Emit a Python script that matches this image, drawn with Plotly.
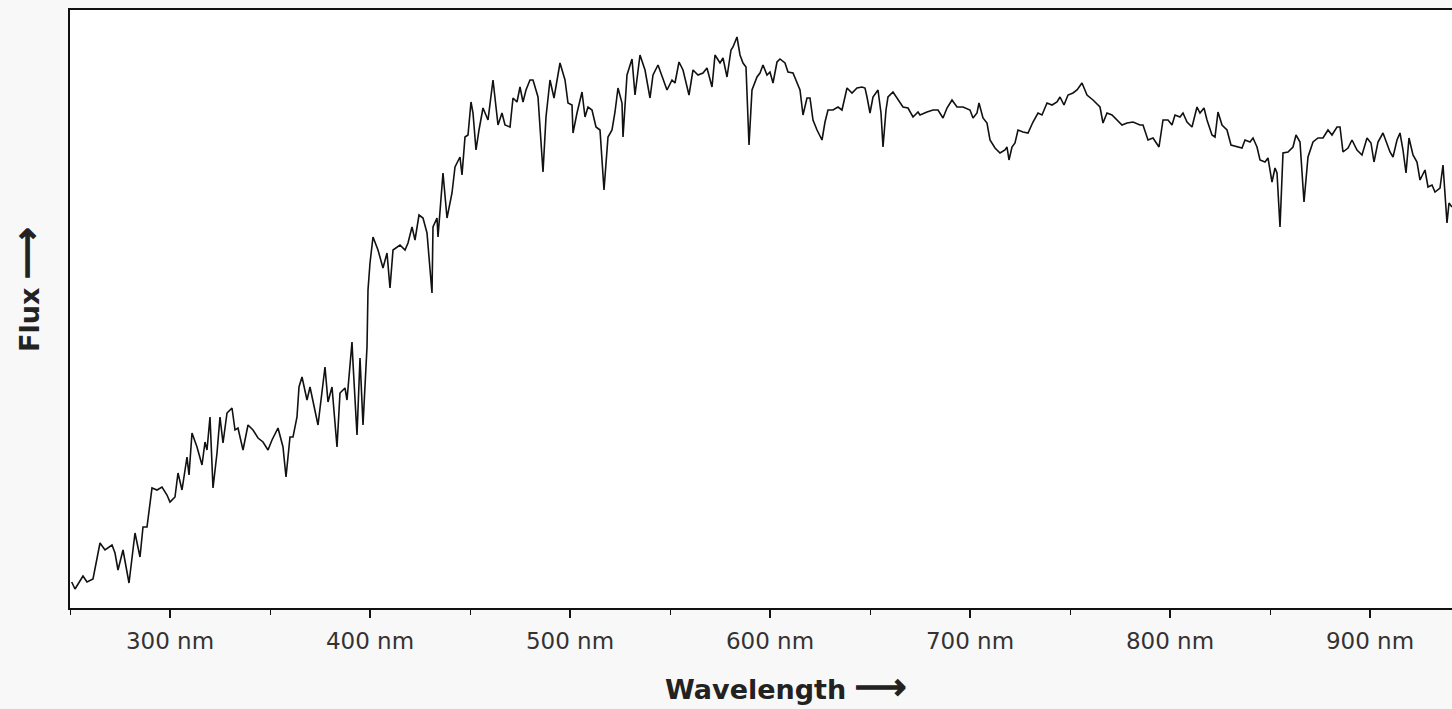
import plotly.graph_objects as go

# Wavelength (nm) and relative flux (arbitrary units)
wavelength_nm = [
    250.85, 252.5, 256.5, 258.5, 261.5, 265, 267.5, 271, 272.5, 274, 276.5, 279.5,
    282.5, 285, 286.5, 288.5, 291, 293.5, 296, 298.5, 300, 302.5, 304, 306, 308.5,
    309.5, 311, 313.5, 316, 317.5, 318.5, 320, 321.5, 323.5, 325, 326.5, 328.5, 331,
    332.5, 334, 336.5, 339, 341.5, 344, 346.5, 349, 351, 354, 356.5, 358, 360, 361.5,
    363.5, 364.5, 366, 368.5, 370, 374, 377.5, 379, 381, 383.5, 385, 387.5, 388.5,
    391, 391.5, 393.5, 395, 396.5, 398.5, 399, 400, 401.5, 404, 406.5, 408.5, 410,
    411.5, 415, 417.5, 419, 421, 422.5, 424.5, 426.5, 428.5, 430, 431, 431.5, 433.5,
    434, 436.5, 438.5, 441, 442.5, 445, 446, 447.5, 449, 450.5, 451.5, 453, 454.5,
    456.5, 459, 461.5, 464, 466, 467.5, 470, 471.5, 473.5, 475, 476.5, 478, 480,
    481.5, 484, 486.5, 488, 490, 492, 495, 497.5, 499, 501, 501.5, 503.5, 506, 507.5,
    509, 511, 513, 515, 517, 519, 521, 522.5, 524, 526, 526.5, 528.5, 531, 532.5, 535,
    537.5, 540, 541.5, 544, 546.5, 548.5, 551, 552.5, 554.5, 556.5, 559.5, 561.5, 564,
    566.5, 568.5, 571, 572.5, 575, 576.5, 578.5, 580.5, 581.5, 583.5, 585, 586.5, 588,
    589.5, 591, 593.5, 595, 596.5, 598.5, 600, 601.5, 603.5, 605, 607.5, 609, 611.5,
    613.5, 615, 616.5, 618.5, 620, 621.5, 623.5, 626, 627.5, 629, 631.5, 634, 636,
    638.5, 641, 643.5, 646, 647.5, 648.5, 650, 651.5, 654, 655.5, 656.5, 658, 659,
    661.5, 664, 666.5, 669, 671.5, 674, 675, 678.5, 681.5, 684, 686.5, 688.5, 691,
    693.5, 696.5, 700, 701.5, 703.5, 704.5, 706.5, 708.5, 710, 712.5, 715, 717.5,
    718.5, 719.5, 721, 722.5, 724, 726.5, 729, 731.5, 734, 736, 738.5, 741, 743.5, 745,
    747, 749, 751.5, 753.5, 756, 758.5, 761.5, 765, 766.5, 768.5, 771, 773.5, 776,
    778.5, 781.5, 785, 786.5, 789, 791.5, 794.5, 796.5, 799, 801, 802.5, 805, 806.5,
    808.5, 811, 813.5, 815, 817, 818.5, 821, 822.5, 824, 826, 828.5, 830.5, 833.5, 836,
    837.5, 840, 841.5, 843.5, 845, 847.5, 849, 851, 852.5, 853.5, 855, 856.5, 859,
    861.5, 863, 865, 867, 869, 871.5, 874, 876.5, 879, 881, 883.5, 885, 886.5, 889,
    891, 893.5, 896, 898.5, 900.5, 902, 904, 906.5, 908.5, 910, 911.5, 913.5, 915,
    916.5, 918, 919.5, 921.5, 923.5, 925, 927.5, 929, 931, 932.5, 935, 936.5, 937.5,
    938.5, 939.5, 941,
]
flux = [
    26, 19, 32, 26, 29, 65, 58, 63, 55, 38, 58, 25,
    75, 51, 81, 81, 120, 118, 121, 113, 106, 111, 135, 118, 151,
    133, 175, 161, 143, 166, 158, 191, 120, 155, 191, 165, 195, 200,
    178, 180, 158, 183, 178, 170, 166, 158, 168, 180, 161, 131, 171, 171,
    191, 221, 231, 208, 221, 183, 241, 206, 221, 161, 215, 220, 208,
    266, 245, 173, 250, 183, 261, 318, 345, 371, 358, 340, 355, 320,
    358, 363, 358, 365, 381, 368, 393, 390, 375, 338, 315, 381, 390,
    371, 435, 390, 415, 441, 451, 433, 471, 473, 506, 495, 458, 478,
    500, 488, 528, 483, 495, 483, 481, 510, 506, 521, 506, 518, 528,
    528, 511, 436, 491, 528, 510, 545, 528, 505, 503, 475, 495, 516, 491,
    501, 498, 481, 478, 418, 471, 478, 496, 520, 505, 471, 533, 549, 513, 553,
    538, 510, 533, 543, 528, 518, 528, 525, 546, 538, 513, 538, 533,
    535, 540, 521, 553, 545, 550, 531, 558, 561, 571, 553, 545, 541,
    463, 518, 531, 535, 543, 533, 536, 525, 546, 549, 545, 536, 535,
    525, 518, 493, 510, 510, 488, 478, 468, 486, 498, 498, 501, 498,
    520, 515, 520, 521, 520, 511, 495, 511, 518, 495, 461, 498, 511,
    516, 508, 501, 500, 491, 496, 493, 496, 498, 498, 490, 500, 508,
    501, 501, 498, 490, 495, 505, 490, 485, 468, 460, 455, 458,
    461, 448, 461, 465, 478, 476, 475, 486, 495, 493, 505, 503, 506, 511,
    503, 513, 515, 518, 525, 513, 508, 501, 485, 495, 493, 488, 483,
    485, 486, 483, 483, 468, 470, 461, 488, 488, 483, 493, 491, 495,
    486, 481, 501, 495, 500, 488, 473, 471, 496, 483, 478, 463, 461, 460,
    468, 466, 470, 461, 448, 446, 450, 426, 440, 435, 381, 455, 456,
    461, 473, 466, 406, 451, 466, 470, 470, 478, 473, 481, 481, 456, 460,
    468, 458, 453, 470, 465, 446, 466, 475, 465, 456, 451, 468, 475,
    458, 435, 470, 453, 446, 428, 438, 421, 423, 416, 420, 443, 408,
    385, 405, 401,
]

x_range = [250, 941]
y_range = [0, 598]

ARROW = '<span style="font-size:36px;stroke:#222222;stroke-width:1.6px">⟶</span>'

fig = go.Figure(
    go.Scatter(
        x=wavelength_nm,
        y=flux,
        mode="lines",
        line=dict(color="#111111", width=1.6),
        hoverinfo="skip",
    )
)

fig.update_layout(
    width=1452,
    height=709,
    margin=dict(l=70, r=0, t=10, b=101),
    paper_bgcolor="#f8f8f8",
    plot_bgcolor="#ffffff",
    showlegend=False,
    font=dict(family="DejaVu Sans", color="#333333"),
)

fig.update_xaxes(
    range=x_range,
    tickmode="linear",
    tick0=0,
    dtick=100,
    ticksuffix=" nm",
    ticks="outside",
    ticklen=8,
    tickwidth=2,
    tickcolor="#111111",
    ticklabelstandoff=4,
    tickfont=dict(size=23, color="#333333", family="DejaVu Sans"),
    showline=True,
    linecolor="#111111",
    linewidth=1.5,
    mirror=True,
    showgrid=False,
    zeroline=False,
    minor=dict(dtick=50, tick0=0, ticks="outside", ticklen=5, tickwidth=1, tickcolor="#111111"),
)
fig.update_yaxes(
    range=y_range,
    showticklabels=False,
    ticks="",
    showline=True,
    linecolor="#111111",
    linewidth=1.5,
    mirror=False,
    showgrid=False,
    zeroline=False,
)

fig.add_annotation(
    text="<b>Wavelength</b> " + ARROW,
    xref="paper", yref="paper",
    x=(785 - 70) / 1382, y=(608 - 686) / 598,
    xanchor="center", yanchor="middle",
    showarrow=False,
    font=dict(family="DejaVu Sans", size=27, color="#222222"),
)
fig.add_annotation(
    text="<b>Flux</b> " + ARROW,
    xref="paper", yref="paper",
    x=(26 - 70) / 1382, y=(608 - 290) / 598,
    xanchor="center", yanchor="middle",
    textangle=-90,
    showarrow=False,
    font=dict(family="DejaVu Sans", size=27, color="#222222"),
)

fig.write_html(
    "out.html",
    config={"displayModeBar": False},
    post_script=(
        "document.documentElement.style.margin='0';"
        "document.documentElement.style.background='#f8f8f8';"
        "document.body.style.margin='0';"
        "document.body.style.padding='0';"
        "document.body.style.overflow='hidden';"
        "document.body.style.background='#f8f8f8';"
    ),
)
